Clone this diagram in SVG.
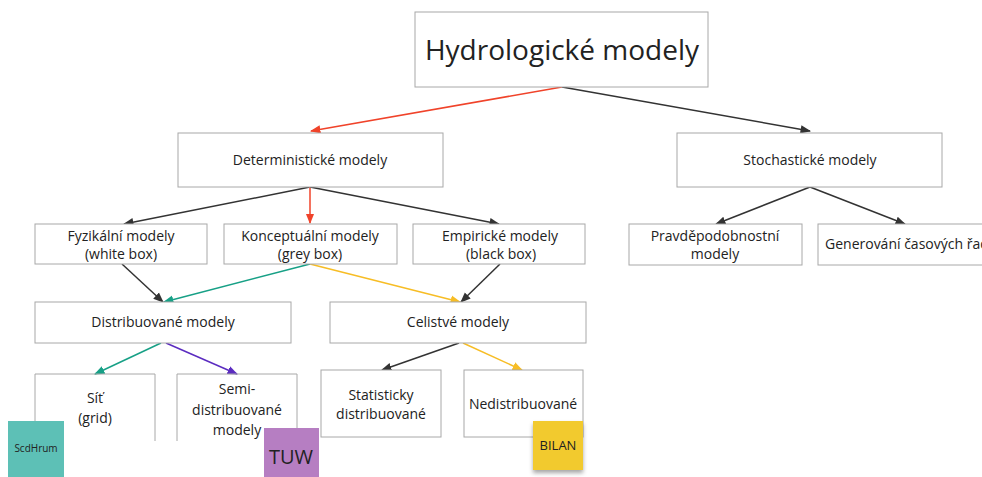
<svg xmlns="http://www.w3.org/2000/svg" width="982" height="477" viewBox="0 0 982 477">
<style>
.box{fill:#fff;stroke:#a8a8a8;stroke-width:1}
.open{fill:none;stroke:#a8a8a8;stroke-width:1}
text{font-family:"Open Sans","Noto Sans",sans-serif;fill:#222;text-anchor:middle}
.t{font-size:14px}
.big{font-size:28px}
.c{fill:none;stroke-width:1.5}
.k{stroke:#333}
.r{stroke:#f0432a}
.g{stroke:#17a086}
.y{stroke:#f7bd25}
.p{stroke:#5b2cc0}
</style>
<defs>
<marker id="ak" viewBox="0 0 10 10" refX="9" refY="5" markerWidth="7" markerHeight="7" orient="auto"><path d="M0,1L10,5L0,9z" fill="#333"/></marker>
<marker id="ar" viewBox="0 0 10 10" refX="9" refY="5" markerWidth="7" markerHeight="7" orient="auto"><path d="M0,1L10,5L0,9z" fill="#f0432a"/></marker>
<marker id="ag" viewBox="0 0 10 10" refX="9" refY="5" markerWidth="7" markerHeight="7" orient="auto"><path d="M0,1L10,5L0,9z" fill="#17a086"/></marker>
<marker id="ay" viewBox="0 0 10 10" refX="9" refY="5" markerWidth="7" markerHeight="7" orient="auto"><path d="M0,1L10,5L0,9z" fill="#f7bd25"/></marker>
<marker id="ap" viewBox="0 0 10 10" refX="9" refY="5" markerWidth="7" markerHeight="7" orient="auto"><path d="M0,1L10,5L0,9z" fill="#5b2cc0"/></marker>
<filter id="sh" x="-20%" y="-20%" width="140%" height="150%"><feDropShadow dx="0" dy="3" stdDeviation="2" flood-color="#000" flood-opacity="0.35"/></filter>
</defs>
<rect width="982" height="477" fill="#fff"/>

<g id="connectors">
<line class="c r" x1="562" y1="87" x2="311" y2="131" marker-end="url(#ar)"/>
<line class="c k" x1="562" y1="87" x2="810" y2="131" marker-end="url(#ak)"/>
<line class="c k" x1="310" y1="187" x2="124" y2="224" marker-end="url(#ak)"/>
<line class="c r" x1="310" y1="187" x2="310" y2="223" marker-end="url(#ar)"/>
<line class="c k" x1="310" y1="187" x2="499" y2="224" marker-end="url(#ak)"/>
<line class="c k" x1="810" y1="187" x2="716" y2="224" marker-end="url(#ak)"/>
<line class="c k" x1="810" y1="187" x2="905" y2="224" marker-end="url(#ak)"/>
<line class="c k" x1="122" y1="264" x2="163" y2="302" marker-end="url(#ak)"/>
<line class="c g" x1="310" y1="264" x2="164" y2="302" marker-end="url(#ag)"/>
<line class="c y" x1="310" y1="264" x2="460" y2="302" marker-end="url(#ay)"/>
<line class="c k" x1="500" y1="264" x2="461" y2="302" marker-end="url(#ak)"/>
<line class="c g" x1="161" y1="343" x2="95" y2="374" marker-end="url(#ag)"/>
<line class="c p" x1="166" y1="343" x2="237" y2="374" marker-end="url(#ap)"/>
<line class="c k" x1="459" y1="343" x2="382" y2="370" marker-end="url(#ak)"/>
<line class="c y" x1="463" y1="343" x2="522" y2="370" marker-end="url(#ay)"/>
</g>

<g id="hydro"><rect class="box" x="415" y="12" width="293" height="75"/><text class="big" x="562" y="60">Hydrologické modely</text></g>
<g id="determ"><rect class="box" x="178" y="133" width="265" height="54"/><text class="t" x="310" y="165">Deterministické modely</text></g>
<g id="stoch"><rect class="box" x="677" y="133" width="265" height="54"/><text class="t" x="810" y="165">Stochastické modely</text></g>

<g id="fyz"><rect class="box" x="35" y="224" width="172" height="40"/><text class="t" x="121" y="241">Fyzikální modely</text><text class="t" x="121" y="259">(white box)</text></g>
<g id="konc"><rect class="box" x="224" y="224" width="173" height="40"/><text class="t" x="310" y="241">Konceptuální modely</text><text class="t" x="310" y="259">(grey box)</text></g>
<g id="emp"><rect class="box" x="413" y="224" width="172" height="40"/><text class="t" x="500" y="241">Empirické modely</text><text class="t" x="501" y="259">(black box)</text></g>
<g id="prav"><rect class="box" x="629" y="224" width="173" height="41"/><text class="t" x="715" y="241">Pravděpodobnostní</text><text class="t" x="715" y="259">modely</text></g>
<g id="gen"><rect class="box" x="818" y="224" width="170" height="41"/><text class="t" x="825" y="249" style="text-anchor:start">Generování časových řad</text></g>

<g id="distr"><rect class="box" x="35" y="302" width="256" height="41"/><text class="t" x="163" y="327">Distribuované modely</text></g>
<g id="celist"><rect class="box" x="330" y="302" width="256" height="41"/><text class="t" x="458" y="327">Celistvé modely</text></g>

<g id="sit"><path class="open" d="M35,441V374H155V441"/><text class="t" x="95" y="403">Síť</text><text class="t" x="95" y="423">(grid)</text></g>
<g id="semi"><path class="open" d="M177,441V374H297V441"/><text class="t" x="237" y="394">Semi-</text><text class="t" x="237" y="415">distribuované</text><text class="t" x="237" y="435">modely</text></g>
<g id="stat"><rect class="box" x="321" y="370" width="120" height="67"/><text class="t" x="381" y="400">Statisticky</text><text class="t" x="381" y="419">distribuované</text></g>
<g id="nedis"><rect class="box" x="464" y="370" width="119" height="67"/><text class="t" x="523" y="409">Nedistribuované</text></g>

<g id="scdhrum"><rect x="8" y="421" width="56" height="56" fill="#5dc0b6"/><text x="36" y="452" style="font-size:10px">ScdHrum</text></g>
<g id="tuw"><rect x="264" y="428" width="55" height="49" fill="#b67ec2"/><text x="291" y="464" style="font-size:20px">TUW</text></g>
<g id="bilan"><rect x="533" y="421" width="50" height="49" fill="#f2ca2f" filter="url(#sh)"/><text x="558" y="450" style="font-size:13px">BILAN</text></g>
</svg>
